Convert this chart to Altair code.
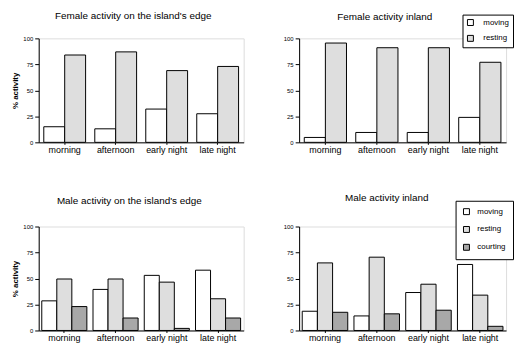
import altair as alt
import pandas as pd

times = ["morning", "afternoon", "early night", "late night"]
series2 = ["moving", "resting"]
series3 = ["moving", "resting", "courting"]

fe_moving = [15, 13, 32, 27.5]
fe_resting = [84, 87, 69, 73]
fi_moving = [4.7, 9.5, 9.5, 24]
fi_resting = [95.5, 91, 91, 77]
me_moving = [28.5, 39.5, 53, 58]
me_resting = [49.5, 49.5, 46.5, 30.5]
me_courting = [23, 12, 2, 12]
mi_moving = [18.5, 14, 36.5, 63.5]
mi_resting = [65, 70.5, 44.5, 34]
mi_courting = [17.5, 16, 19.5, 4]

fills = ["#ffffff", "#dedede", "#a8a8a8"]
FONT = "Liberation Sans"


def make_df(series, lists):
    rows = []
    for s, vals in zip(series, lists):
        for t, v in zip(times, vals):
            rows.append({"time": t, "series": s, "value": v})
    return pd.DataFrame(rows)


def panel(df, series, title, dx, toff, ytitle, legend, pin, pout, width):
    x = alt.X("time:N", sort=times,
              scale=alt.Scale(paddingInner=pin, paddingOuter=pout),
              axis=alt.Axis(title=None, labelAngle=0, labelFontSize=9, labelFont=FONT,
                            labelColor="black", domainColor="black", tickColor="black",
                            tickSize=2, labelPadding=1))
    xo = alt.XOffset("series:N", sort=series, scale=alt.Scale(paddingInner=0, paddingOuter=0))
    yaxis = dict(values=[0, 25, 50, 75, 100], grid=False, labelFontSize=6, labelFont=FONT,
                 labelColor="black", domainColor="black", tickColor="black", tickSize=4,
                 labelPadding=2)
    if ytitle:
        yaxis.update(title="% activity", titleFontSize=8, titleFont=FONT,
                     titleColor="black", titleFontWeight="bold", titlePadding=3)
    else:
        yaxis.update(title=None)
    y = alt.Y("value:Q", scale=alt.Scale(domain=[0, 100], nice=False), axis=alt.Axis(**yaxis))
    if legend is None:
        leg = None
    else:
        leg = alt.Legend(orient="none", legendX=legend[0], legendY=legend[1], title=None,
                         strokeColor="black", fillColor="white", padding=legend[2],
                         symbolType="square", symbolSize=36, symbolStrokeColor="black",
                         symbolStrokeWidth=1, labelFontSize=8, labelFont=FONT,
                         labelColor="black", labelOffset=legend[3], rowPadding=legend[4])
    fill = alt.Fill("series:N", sort=series,
                    scale=alt.Scale(domain=series, range=fills[:len(series)]), legend=leg)
    return alt.Chart(df).mark_bar(stroke="black", strokeWidth=1).encode(
        x=x, xOffset=xo, y=y, fill=fill
    ).properties(
        width=width, height=105,
        title=alt.TitleParams(title, fontSize=10, font=FONT, fontWeight="normal",
                              color="black", anchor="middle", dx=dx, offset=toff)
    )


p1 = panel(make_df(series2, [fe_moving, fe_resting]), series2,
           "Female activity on the island's edge", -8, 15, True, None, 0.18, 0.1, 207)
p2 = panel(make_df(series2, [fi_moving, fi_resting]), series2,
           "Female activity inland", -18, -8, False, (165, -24, 4, 9, 6), 0.18, 0.1, 209)
p3 = panel(make_df(series3, [me_moving, me_resting, me_courting]), series3,
           "Male activity on the island's edge", -12, 18, True, None, 0.12, 0.06, 207)
p4 = panel(make_df(series3, [mi_moving, mi_resting, mi_courting]), series3,
           "Male activity inland", -16, -3, False, (158, -26, 7, 7, 8), 0.12, 0.06, 209)

res = dict(fill="independent", x="independent", y="independent", xOffset="independent")

chart = alt.concat(p1, p2, p3, p4, columns=2, spacing={"row": 85, "column": 56},
                   bounds="flush").resolve_scale(**res).resolve_legend(
    fill="independent"
).properties(
    padding={"left": 3, "top": 0, "right": 0, "bottom": 0}
).configure_view(stroke=None).configure(background="white")

chart.save("out.html", embed_options={"renderer": "svg", "actions": False})
